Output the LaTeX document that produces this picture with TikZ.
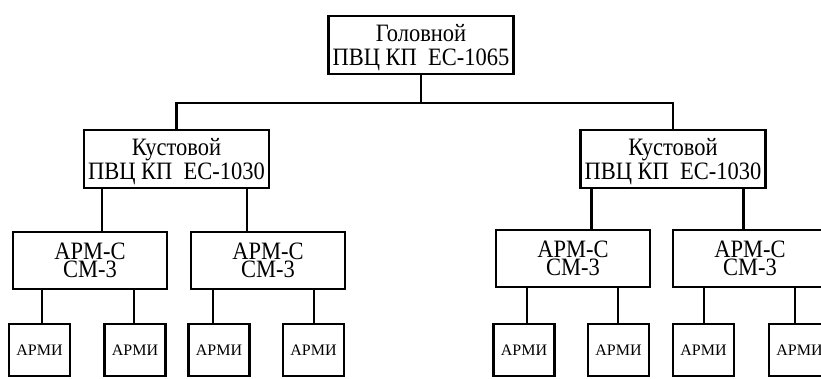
\documentclass[tikz,border=0pt]{standalone}
\usepackage{fontspec}
\setmainfont{Liberation Serif}
\newfontfamily\narrowserif[FakeStretch=0.9]{Liberation Serif}
\newcommand{\tightlines}{\lineskiplimit -20pt\relax}
\usetikzlibrary{positioning}

\begin{document}
\begin{tikzpicture}[
    x=1pt, y=-1pt,
    unit/.style={draw, line width=2.4pt, align=center, inner sep=0pt,
                 minimum width=185pt, minimum height=58pt, text depth=0pt,
                 font=\narrowserif\fontsize{25}{24.3}\selectfont},
    armc/.style={draw, line width=2.4pt, align=center, inner sep=0pt,
                 minimum width=154pt, minimum height=57pt, text depth=0pt,
                 font=\narrowserif\fontsize{25}{18.3}\selectfont\tightlines},
    armi/.style={draw, line width=2.4pt, align=center, inner sep=0pt,
                 minimum width=61pt, minimum height=52pt,
                 font=\fontsize{16}{18}\selectfont},
    link/.style={draw, line width=2.4pt}
]
  \clip (0,0) rectangle (821,379);

  % Level 1: head centre
  \node[unit] (head) at (421,45) {Головной\\ПВЦ КП\ \ ЕС-1065};
  \coordinate (bus) at (420,103);

  % Level 2: cluster centres
  \node[unit] (kustL) at (176.5,159) {Кустовой\\ПВЦ КП\ \ ЕС-1030};
  \node[unit] (kustR) at (673,159)   {Кустовой\\ПВЦ КП\ \ ЕС-1030};

  % Level 3: АРМ-С
  \node[armc] (armcL1) at (90,260.5)  {АРМ-С\\СМ-3};
  \node[armc] (armcL2) at (268,260.5) {АРМ-С\\СМ-3};
  \node[armc] (armcR1) at (573,258.5) {АРМ-С\\СМ-3};
  \node[armc] (armcR2) at (750,258.5) {АРМ-С\\СМ-3};

  % Level 4: АРМИ
  \foreach \name/\xc in {L1/39.5, L2/135, L3/219, L4/313.5,
                         R1/524, R2/618.5, R3/703.5, R4/799.5}
    \node[armi] (armi\name) at (\xc,350) {АРМИ};

  % Connections
  \draw[link] (head.south) -- (head.south |- bus);
  \draw[link] (kustL.north) |- (bus) -| (kustR.north);

  \draw[link] ([xshift=19pt]kustL.south west) -- ([xshift=19pt]kustL.south west |- armcL1.north);
  \draw[link] ([xshift=164pt]kustL.south west) -- ([xshift=164pt]kustL.south west |- armcL2.north);
  \draw[link] ([xshift=12pt]kustR.south west) -- ([xshift=12pt]kustR.south west |- armcR1.north);
  \draw[link] ([xshift=164pt]kustR.south west) -- ([xshift=164pt]kustR.south west |- armcR2.north);

  \foreach \up/\down/\xs in {armcL1/armiL1/42, armcL1/armiL2/134,
                             armcL2/armiL3/213, armcL2/armiL4/314,
                             armcR1/armiR1/527, armcR1/armiR2/618,
                             armcR2/armiR3/704, armcR2/armiR4/795}
    \draw[link] (\up.south -| \xs,0) -- (\down.north -| \xs,0);
\end{tikzpicture}
\end{document}
